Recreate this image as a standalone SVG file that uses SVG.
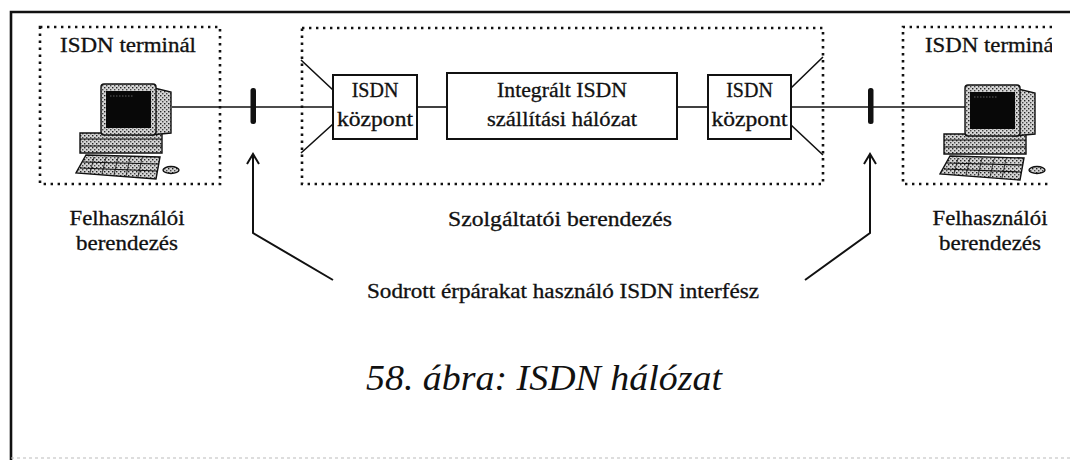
<svg xmlns="http://www.w3.org/2000/svg" width="1070" height="460" viewBox="0 0 1070 460">
  <style>
    .frame { fill: none; stroke: #111; stroke-width: 2.6; }
    .dotted { fill: none; stroke: #111; stroke-width: 2.6; stroke-dasharray: 2.4 4.6; }
    .box { fill: #fff; stroke: #111; stroke-width: 2; }
    .wire { fill: none; stroke: #111; stroke-width: 1.6; }
    .lead { fill: none; stroke: #111; stroke-width: 2; stroke-linejoin: miter; }
    .bar { fill: #111; }
    .lbl { font-family: "Liberation Serif", "Times New Roman", serif; font-size: 20px; fill: #111; stroke: #111; stroke-width: 0.3; text-anchor: middle; }
    .cap { font-family: "Liberation Serif", "Times New Roman", serif; font-size: 36px; font-style: italic; fill: #111; text-anchor: middle; }
    .pc-stroke { stroke: #111; stroke-width: 1.4; }
  </style>
  <defs>
    <!-- halftone-like grain for the computer casings -->
    <pattern id="grain" width="4" height="4" patternUnits="userSpaceOnUse">
      <rect width="4" height="4" fill="#d4d4d4"/>
      <rect x="0" y="0" width="1.4" height="1.4" fill="#222"/>
      <rect x="2" y="2" width="1.4" height="1.4" fill="#444"/>
    </pattern>
    <marker id="open-arrow" viewBox="-12 -8 14 16" refX="0" refY="0" markerWidth="14" markerHeight="16" markerUnits="userSpaceOnUse" orient="auto-start-reverse" overflow="visible">
      <path d="M-10,-6 L0,0 L-10,6" fill="none" stroke="#111" stroke-width="2"/>
    </marker>
    <clipPath id="page-clip">
      <rect x="0" y="0" width="1052" height="460"/>
    </clipPath>
    <!-- desktop computer symbol, monitor facing the viewer -->
    <g id="pc">
      <!-- keyboard in perspective -->
      <path d="M10,72 L84,74 L80,96 L0,90 Z" fill="url(#grain)" class="pc-stroke"/>
      <path d="M7,79 L82,81 M4,85 L81,88" stroke="#111" stroke-width="1.2"/>
      <path d="M14,90 L18,74 M26,91 L30,74 M38,92 L42,74 M50,93 L54,75 M62,94 L66,75" stroke="#111" stroke-width="0.8"/>
      <!-- system unit -->
      <path d="M4,50 L86,50 L86,70 L4,70 Z" fill="url(#grain)" class="pc-stroke"/>
      <path d="M4,56 L86,56 M4,63 L86,63" stroke="#111" stroke-width="1.1"/>
      <!-- monitor body with side depth -->
      <path d="M74,4 L95,9 L95,50 L74,52 Z" fill="url(#grain)" class="pc-stroke"/>
      <rect x="25" y="1" width="55" height="51" rx="3" fill="url(#grain)" class="pc-stroke"/>
      <rect x="30" y="8" width="45" height="37" fill="#080808"/>
      <path d="M34,13 L58,13" stroke="#777" stroke-width="0.8" stroke-dasharray="1.5 1.5"/>
    </g>
  </defs>

  <!-- page frame -->
  <g id="frame">
    <path class="frame" d="M11,460 L11,12 L1070,12"/>
    <path d="M11,458 L1070,458" fill="none" stroke="#bbb" stroke-width="1.2" stroke-dasharray="3 3"/>
  </g>

  <!-- dotted enclosures -->
  <g id="user-left-area">
    <rect class="dotted" x="40" y="27" width="180" height="157"/>
  </g>
  <g id="provider-area">
    <rect class="dotted" x="302" y="28" width="521" height="156"/>
  </g>
  <g id="user-right-area">
    <path class="dotted" d="M1052,27 L903,27 L903,184 L1052,184"/>
  </g>

  <!-- connectors -->
  <g id="connectors">
    <path class="wire" d="M172,107 L333,107"/>
    <path class="wire" d="M417,107 L447,107"/>
    <path class="wire" d="M677,107 L708,107"/>
    <path class="wire" d="M791,107 L968,107"/>
    <path class="wire" d="M301,60 L333,90 M333,124 L301,153"/>
    <path class="wire" d="M791,88 L823,57 M791,125 L823,155"/>
    <rect class="bar" x="250.5" y="88" width="5.5" height="36" rx="2.5"/>
    <rect class="bar" x="868" y="88" width="5.5" height="36" rx="2.5"/>
    <path class="lead" d="M253,154 L253,233 L333,280" marker-start="url(#open-arrow)"/>
    <path class="lead" d="M870,154 L870,233 L805,280" marker-start="url(#open-arrow)"/>
  </g>

  <g id="terminal-left">
    <text class="lbl" x="128" y="52" font-size="21" textLength="136" lengthAdjust="spacingAndGlyphs">ISDN terminál</text>
    <use href="#pc" x="76" y="83"/>
    <ellipse cx="171" cy="170" rx="8" ry="3.5" fill="url(#grain)" class="pc-stroke"/>
  </g>

  <g id="terminal-right" clip-path="url(#page-clip)">
    <text x="925" y="52" font-family="Liberation Serif, Times New Roman, serif" font-size="21" fill="#111" stroke="#111" stroke-width="0.3" textLength="135" lengthAdjust="spacingAndGlyphs">ISDN terminál</text>
    <use href="#pc" x="940" y="84"/>
    <ellipse cx="1037" cy="170" rx="8" ry="3.5" fill="url(#grain)" class="pc-stroke"/>
  </g>

  <g id="exchange-left">
    <rect class="box" x="333" y="75" width="84" height="64"/>
    <text class="lbl" x="375" y="97" font-size="21">ISDN</text>
    <text class="lbl" x="375" y="126" font-size="21" textLength="76" lengthAdjust="spacingAndGlyphs">központ</text>
  </g>

  <g id="transport-network">
    <rect class="box" x="447" y="73" width="230" height="66"/>
    <text class="lbl" x="562" y="97" textLength="130" lengthAdjust="spacingAndGlyphs">Integrált ISDN</text>
    <text class="lbl" x="562" y="126" textLength="150" lengthAdjust="spacingAndGlyphs">szállítási hálózat</text>
  </g>

  <g id="exchange-right">
    <rect class="box" x="708" y="75" width="83" height="64"/>
    <text class="lbl" x="749.5" y="97" font-size="21">ISDN</text>
    <text class="lbl" x="749.5" y="126" font-size="21" textLength="76" lengthAdjust="spacingAndGlyphs">központ</text>
  </g>

  <g id="labels">
    <text class="lbl" x="127" y="225" textLength="115" lengthAdjust="spacingAndGlyphs">Felhasználói</text>
    <text class="lbl" x="127" y="250" textLength="102" lengthAdjust="spacingAndGlyphs">berendezés</text>
    <text class="lbl" x="560" y="226" textLength="224" lengthAdjust="spacingAndGlyphs">Szolgáltatói berendezés</text>
    <text class="lbl" x="990" y="225" textLength="115" lengthAdjust="spacingAndGlyphs">Felhasználói</text>
    <text class="lbl" x="990" y="250" textLength="102" lengthAdjust="spacingAndGlyphs">berendezés</text>
    <text class="lbl" x="563" y="298" textLength="392" lengthAdjust="spacingAndGlyphs">Sodrott érpárakat használó ISDN interfész</text>
  </g>

  <g id="caption">
    <text class="cap" x="544" y="390" textLength="356" lengthAdjust="spacingAndGlyphs">58. ábra: ISDN hálózat</text>
  </g>
</svg>
